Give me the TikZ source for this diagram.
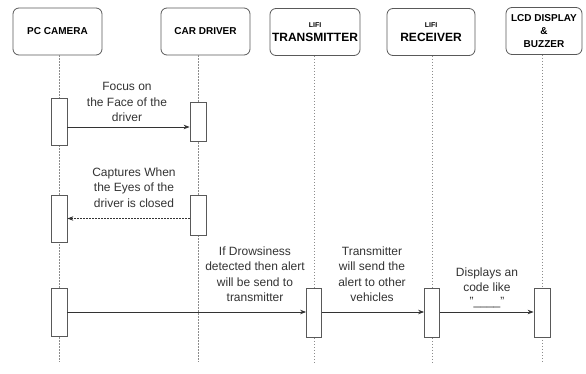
\documentclass[tikz,border=0pt]{standalone}
\usepackage{fontspec}
\setmainfont{Liberation Sans}
\usetikzlibrary{arrows.meta,calc}

\begin{document}
\begin{tikzpicture}[x=1pt,y=-1pt,
  head/.style={draw=black!65,line width=0.8pt,rounded corners=6pt,minimum height=47pt,align=center,inner sep=1pt,font=\bfseries\fontsize{10}{13}\selectfont},
  act/.style={draw=black!65,line width=0.8pt,fill=white,minimum width=16pt,inner sep=0pt},
  life/.style={draw=black!45,line width=0.6pt,dash pattern=on 1.5pt off 1.5pt},
  msg/.style={draw=black!80,line width=0.8pt,-{Stealth[length=6pt,width=4.5pt]}},
  ret/.style={msg,dash pattern=on 1.5pt off 1.5pt},
  lbl/.style={align=center,font=\fontsize{12}{15.5}\selectfont,text=black!80,inner sep=0pt}]
  \useasboundingbox (0,0) rectangle (586,374);
  % participants
  \node [head,minimum width=89pt] (CAM) at (57.5, 31.5) {PC CAMERA};%
  \node [head,minimum width=89pt] (DRV) at (205.5, 31.5) {CAR DRIVER};%
  \node [head,minimum width=90pt] (TX) at (315, 32) {{\fontsize{7}{8}\selectfont LIFI}\\[1pt]{\fontsize{12}{13}\selectfont TRANSMITTER}};%
  \node [head,minimum width=88pt] (RX) at (431, 32) {{\fontsize{7}{8}\selectfont LIFI}\\[1pt]{\fontsize{12}{13}\selectfont RECEIVER}};%
  \node [head,minimum width=76pt] (LCD) at (544, 31) {LCD DISPLAY\\\&\\BUZZER};%
  % lifelines
  \coordinate (CAMe) at (59, 362);
  \coordinate (DRVe) at (198, 362);
  \coordinate (TXe) at (314, 362);
  \coordinate (RXe) at (432, 362);
  \coordinate (LCDe) at (542, 362);
  \draw [life] (CAMe |- CAM.south) -- (CAMe);
  \draw [life] (DRVe |- DRV.south) -- (DRVe);
  \draw [life] (TXe |- TX.south) -- (TXe);
  \draw [life] (RXe |- RX.south) -- (RXe);
  \draw [life] (LCDe |- LCD.south) -- (LCDe);
  % activations
  \node [act,minimum height=47pt] (C1) at (59, 121.5) {};%
  \node [act,minimum height=39pt] (D1) at (198, 121.5) {};%
  \node [act,minimum height=47pt] (C2) at (59, 218.5) {};%
  \node [act,minimum height=40pt] (D2) at (198, 215) {};%
  \node [act,minimum height=48pt] (C3) at (59, 312) {};%
  \node [act,minimum height=49pt,minimum width=15pt] (T3) at (314, 312.5) {};%
  \node [act,minimum height=49pt,minimum width=15pt] (R3) at (432, 312.5) {};%
  \node [act,minimum height=49pt] (L3) at (542, 312.5) {};%
  % messages
  \draw [msg] ([yshift=-5.5pt]C1.east) -- ([yshift=-5.5pt]D1.west);
  \draw [ret] (C2.east -| D2.west) -- (C2.east);
  \draw [msg] (C3.east) -- (C3.east -| T3.west);
  \draw [msg] (C3.east -| T3.east) -- (C3.east -| R3.west);
  \draw [msg] (C3.east -| R3.east) -- (C3.east -| L3.west);
  % labels
  \node [lbl] (M1) at (127, 102) {Focus on\\the Face of the\\driver};%
  \node [lbl] (M2) at (134, 187.5) {Captures When\\the Eyes of the\\driver is closed};%
  \node [lbl] (M3) at (255, 274) {If Drowsiness\\detected then alert\\will be send to\\transmitter};%
  \node [lbl] (M4) at (372, 274) {Transmitter\\will send the\\alert to other\\vehicles};%
  \node [lbl,font=\fontsize{12}{14.5}\selectfont] (M5) at (487, 288) {Displays an\\code like\\"\_\_\_\_"};%
\end{tikzpicture}
\end{document}
